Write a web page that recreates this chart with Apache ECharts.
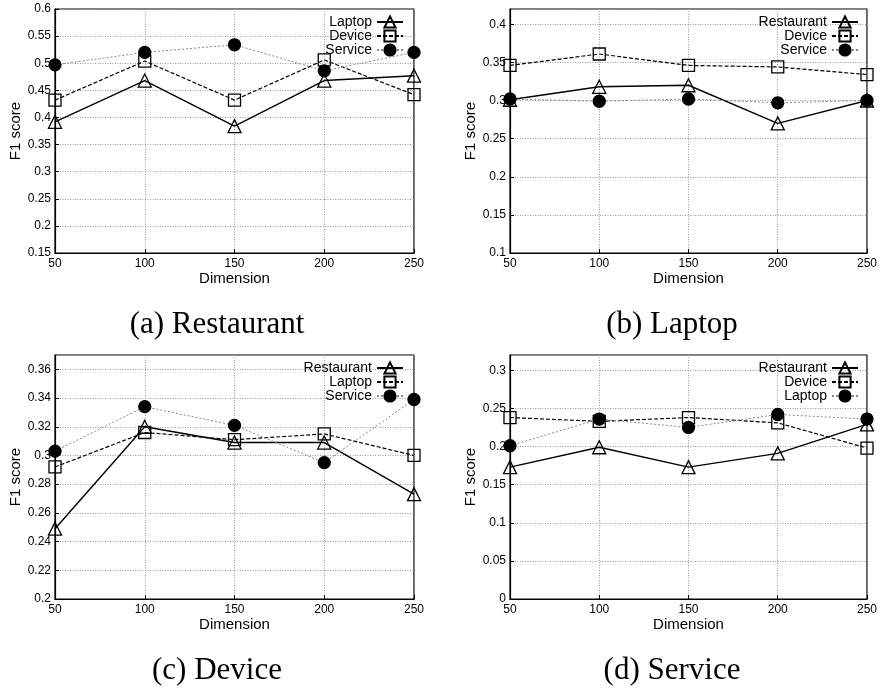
<!DOCTYPE html>
<html>
<head>
<meta charset="utf-8">
<script src="https://cdn.jsdelivr.net/npm/echarts@6/dist/echarts.min.js"></script>
<style>html,body{margin:0;padding:0;background:#fff}#main{width:880px;height:689px}</style>
</head>
<body>
<div id="main"></div>
<script>
var dims = [50, 100, 150, 200, 250];

// (a) Restaurant
var aLaptop = [0.392, 0.468, 0.384, 0.468, 0.477];
var aDevice = [0.432, 0.504, 0.432, 0.506, 0.442];
var aService = [0.497, 0.520, 0.534, 0.486, 0.520];
// (b) Laptop
var bRestaurant = [0.301, 0.318, 0.320, 0.270, 0.300];
var bDevice = [0.346, 0.361, 0.346, 0.344, 0.334];
var bService = [0.302, 0.299, 0.302, 0.297, 0.300];
// (c) Device
var cRestaurant = [0.249, 0.320, 0.309, 0.309, 0.273];
var cLaptop = [0.292, 0.316, 0.311, 0.315, 0.300];
var cService = [0.303, 0.334, 0.321, 0.295, 0.339];
// (d) Service
var dRestaurant = [0.173, 0.199, 0.173, 0.191, 0.229];
var dDevice = [0.238, 0.233, 0.238, 0.231, 0.198];
var dLaptop = [0.201, 0.236, 0.225, 0.242, 0.236];

var captions = ['(a) Restaurant', '(b) Laptop', '(c) Device', '(d) Service'];
var legendNames = [
    ['Laptop', 'Device', 'Service'],
    ['Restaurant', 'Device', 'Service'],
    ['Restaurant', 'Laptop', 'Service'],
    ['Restaurant', 'Device', 'Laptop']
];
var panelValues = [
    [aLaptop, aDevice, aService],
    [bRestaurant, bDevice, bService],
    [cRestaurant, cLaptop, cService],
    [dRestaurant, dDevice, dLaptop]
];
var yMin = [0.15, 0.1, 0.2, 0];
var yMax = [0.6, 0.42, 0.37, 0.32];
var yStep = [0.05, 0.05, 0.02, 0.05];
var showTopLabel = [true, false, false, false];

var boxes = [
    {left: 55, top: 9},
    {left: 510, top: 9},
    {left: 55, top: 355},
    {left: 510, top: 355}
];
var font = 'Liberation Sans, Arial, sans-serif';

// one look per series slot, like the gnuplot line styles
var looks = [
    {symbol: 'triangle', size: 13, fill: 'rgba(0,0,0,0)', line: {color: '#000', width: 1.4, type: 'solid'}},
    {symbol: 'rect', size: 12, fill: 'rgba(0,0,0,0)', line: {color: '#000', width: 1.2, type: [4, 2]}},
    {symbol: 'circle', size: 12, fill: '#000', line: {color: '#8a8a8a', width: 1, type: [2, 2]}}
];

var grid = [], xAxis = [], yAxis = [], series = [], legend = [], title = [];

boxes.forEach(function (b, p) {
    var tag = 'abcd'[p];
    grid.push({
        left: b.left, top: b.top, width: 359, height: 244,
        show: true, borderColor: '#000', borderWidth: 1.2, backgroundColor: 'transparent'
    });
    xAxis.push({
        gridIndex: p, type: 'value', min: 50, max: 250, interval: 50,
        name: 'Dimension', nameLocation: 'middle', nameGap: 14,
        nameTextStyle: {fontFamily: font, fontSize: 15, color: '#000'},
        axisLine: {show: true, lineStyle: {color: '#000', width: 1.2}},
        axisTick: {show: true, inside: true, length: 4, lineStyle: {color: '#000'}},
        axisLabel: {fontFamily: font, fontSize: 12, color: '#000', margin: 5},
        splitLine: {show: true, lineStyle: {color: '#999', type: [1, 1.5], width: 1}}
    });
    yAxis.push({
        gridIndex: p, type: 'value', min: yMin[p], max: yMax[p], interval: yStep[p],
        name: 'F1 score', nameLocation: 'middle', nameGap: 26,
        nameTextStyle: {fontFamily: font, fontSize: 15, color: '#000'},
        axisLine: {show: true, lineStyle: {color: '#000', width: 1.2}},
        axisTick: {show: true, inside: true, length: 4, lineStyle: {color: '#000'}},
        axisLabel: {fontFamily: font, fontSize: 12, color: '#000', margin: 4, showMaxLabel: showTopLabel[p]},
        splitLine: {show: true, lineStyle: {color: '#999', type: [1, 1.5], width: 1}}
    });
    var ids = [];
    legendNames[p].forEach(function (nm, k) {
        var look = looks[k];
        var id = tag + ':' + nm;
        ids.push(id);
        series.push({
            name: id, type: 'line', xAxisIndex: p, yAxisIndex: p,
            data: dims.map(function (d, i) { return [d, panelValues[p][k][i]]; }),
            symbol: look.symbol, symbolSize: look.size, showAllSymbol: true,
            itemStyle: {color: look.fill, borderColor: '#000', borderWidth: 1.3},
            lineStyle: look.line,
            animation: false, silent: true, z: 2 + k
        });
    });
    legend.push({
        data: ids, orient: 'vertical', align: 'right',
        right: 880 - (b.left + 359) + 10, top: b.top + 6,
        itemWidth: 26, itemHeight: 14, itemGap: 0, selectedMode: false, padding: 0,
        formatter: function (n) { return n.split(':')[1]; },
        textStyle: {fontFamily: font, fontSize: 14, color: '#000', lineHeight: 14}
    });
    title.push({
        text: captions[p], left: b.left + 162, top: b.top + 300, textAlign: 'center', padding: 0,
        textStyle: {fontFamily: 'Liberation Serif, Times New Roman, serif', fontSize: 31, fontWeight: 'normal', color: '#000'}
    });
});

var myChart = echarts.init(document.getElementById('main'));
option = {
    backgroundColor: '#fff',
    animation: false,
    title: title,
    legend: legend,
    grid: grid,
    xAxis: xAxis,
    yAxis: yAxis,
    series: series
};
myChart.setOption(option);
</script>
</body>
</html>
